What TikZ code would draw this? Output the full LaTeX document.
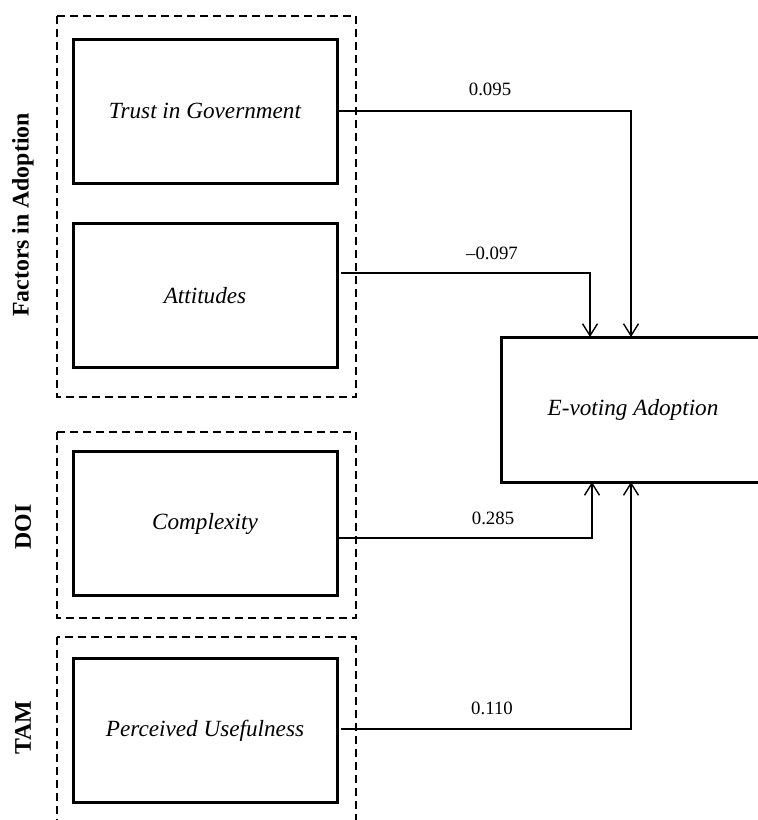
\documentclass[tikz,border=0pt]{standalone}
\usepackage{fontspec}
\setmainfont{Liberation Serif}
\usetikzlibrary{arrows.meta}
\begin{document}
\begin{tikzpicture}[x=1pt,y=-1pt,
  factor/.style={draw, line width=3pt, rectangle, minimum width=264pt, minimum height=144pt,
    inner sep=0pt, outer sep=0pt, font=\fontsize{23.2}{27}\selectfont\itshape},
  groupbox/.style={draw, line width=2.2pt, dash pattern=on 8pt off 5pt},
  grouplabel/.style={rotate=90, font=\fontsize{23.8}{28}\selectfont\bfseries, inner sep=0pt},
  conn/.style={draw, line width=1.1pt},
  arr/.style={conn, -{Straight Barb[length=12pt,width=15pt,line width=1.4pt]}},
  coef/.style={font=\fontsize{18.8}{22}\selectfont, inner sep=0pt}]
\clip (0,0) rectangle (758,820);
\useasboundingbox (0,0) rectangle (758,820);
% group frames
\draw[groupbox] (57,16) rectangle (356,397);
\draw[groupbox] (57,432) rectangle (356,618);
\draw[groupbox] (57,637) rectangle (356,840);
% group labels
\node[grouplabel] (gfac) at (23,215) {Factors in Adoption};
\node[grouplabel] (gdoi) at (23,527) {DOI};
\node[grouplabel] (gtam) at (23,728) {TAM};
% boxes
\node[factor] (trust) at (205,111) {Trust in Government};
\node[factor] (att) at (205,295.5) {Attitudes};
\node[factor] (cpx) at (205,523.5) {Complexity};
\node[factor] (pu) at (205,730.5) {Perceived Usefulness};
\node[factor, minimum height=145pt] (ev) at (633,409.5) {E-voting Adoption};
% connectors
\draw[arr] (trust.east) -| ([xshift=-2pt]ev.north);
\draw[arr] ([xshift=4pt,yshift=22.5pt]att.east) -| ([xshift=-43pt]ev.north);
\draw[arr] ([yshift=-14.5pt]cpx.east) -| ([xshift=-41pt]ev.south);
\draw[arr] ([xshift=4pt,yshift=1.5pt]pu.east) -| ([xshift=-2pt]ev.south);
% coefficients
\node[coef] (c1) at (490,89) {0.095};
\node[coef] (c2) at (492,253) {–0.097};
\node[coef] (c3) at (493,518) {0.285};
\node[coef] (c4) at (492,708) {0.110};
\end{tikzpicture}
\end{document}
